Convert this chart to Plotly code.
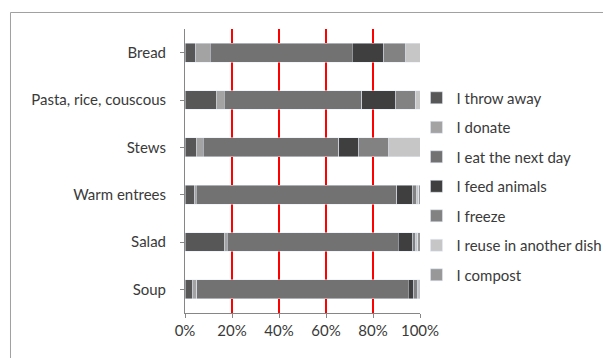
import plotly.graph_objects as go

categories = ["Bread", "Pasta, rice, couscous", "Stews", "Warm entrees", "Salad", "Soup"]

series_names = ["I throw away", "I donate", "I eat the next day", "I feed animals",
                "I freeze", "I reuse in another dish", "I compost"]

throw_away   = [4.4, 13.2, 4.8, 4.0, 16.6, 3.3]
donate       = [6.4, 3.4, 2.9, 0.7, 1.3, 1.7]
eat_next_day = [60.3, 58.7, 57.7, 85.5, 72.9, 89.9]
feed_animals = [13.4, 14.3, 8.5, 6.8, 6.1, 2.5]
freeze       = [9.4, 8.4, 12.8, 1.7, 1.3, 1.7]
reuse        = [6.1, 2.0, 13.3, 0.7, 0.8, 0.5]
compost      = [0.0, 0.0, 0.0, 0.6, 1.0, 0.4]

series_values = [throw_away, donate, eat_next_day, feed_animals, freeze, reuse, compost]
colors = ["#575757", "#a3a3a3", "#727272", "#3f3f3f", "#828282", "#c6c6c6", "#989898"]

tick_vals = [0, 20, 40, 60, 80, 100]
tick_text = ["0%", "20%", "40%", "60%", "80%", "100%"]

FONT = "Lato"
AXIS_GRAY = "#868686"
GRID_GRAY = "#8e8e8e"
TEXT = "#3a3a3a"

fig = go.Figure()
for name, vals, col in zip(series_names, series_values, colors):
    fig.add_trace(go.Bar(
        y=categories, x=vals, name=name, orientation="h",
        marker=dict(color=col),
        legendgroup=name,
    ))

border = [
    dict(type="line", xref="paper", yref="paper", x0=-0.7426, x1=-0.7426, y0=-0.4, y1=1.0581,
         line=dict(color="#a0a0a0", width=1), layer="above"),
    dict(type="line", xref="paper", yref="paper", x0=-0.7426, x1=2.0, y0=1.0581, y1=1.0581,
         line=dict(color="#a0a0a0", width=1), layer="above"),
]

fig.update_layout(
    barmode="stack",
    bargap=0.6,
    width=603, height=358,
    margin=dict(l=185, r=183, t=29, b=45, autoexpand=False),
    paper_bgcolor="white", plot_bgcolor="white",
    font=dict(family=FONT, size=15, color=TEXT),
    showlegend=True,
    legend=dict(
        x=0.985, y=0.815, xanchor="left", yanchor="top",
        traceorder="grouped", tracegroupgap=7,
        font=dict(family=FONT, size=15, color=TEXT),
        itemwidth=30, bgcolor="rgba(0,0,0,0)",
    ),
    xaxis=dict(
        range=[0, 100], tickvals=tick_vals, ticktext=tick_text,
        showgrid=True, gridcolor="red", gridwidth=2,
        showline=True, linecolor=AXIS_GRAY, linewidth=1,
        ticks="outside", ticklen=4, tickcolor=AXIS_GRAY,
        zeroline=False,
        tickfont=dict(family=FONT, size=15, color=TEXT),
    ),
    yaxis=dict(
        categoryorder="array", categoryarray=categories, autorange="reversed",
        showline=True, linecolor=AXIS_GRAY, linewidth=1,
        ticks="outside", ticklen=4, tickcolor=AXIS_GRAY,
        showgrid=False, zeroline=False,
        ticklabelstandoff=11,
        tickfont=dict(family=FONT, size=15, color=TEXT),
    ),
    shapes=border,
)

fig.write_html("out.html")
